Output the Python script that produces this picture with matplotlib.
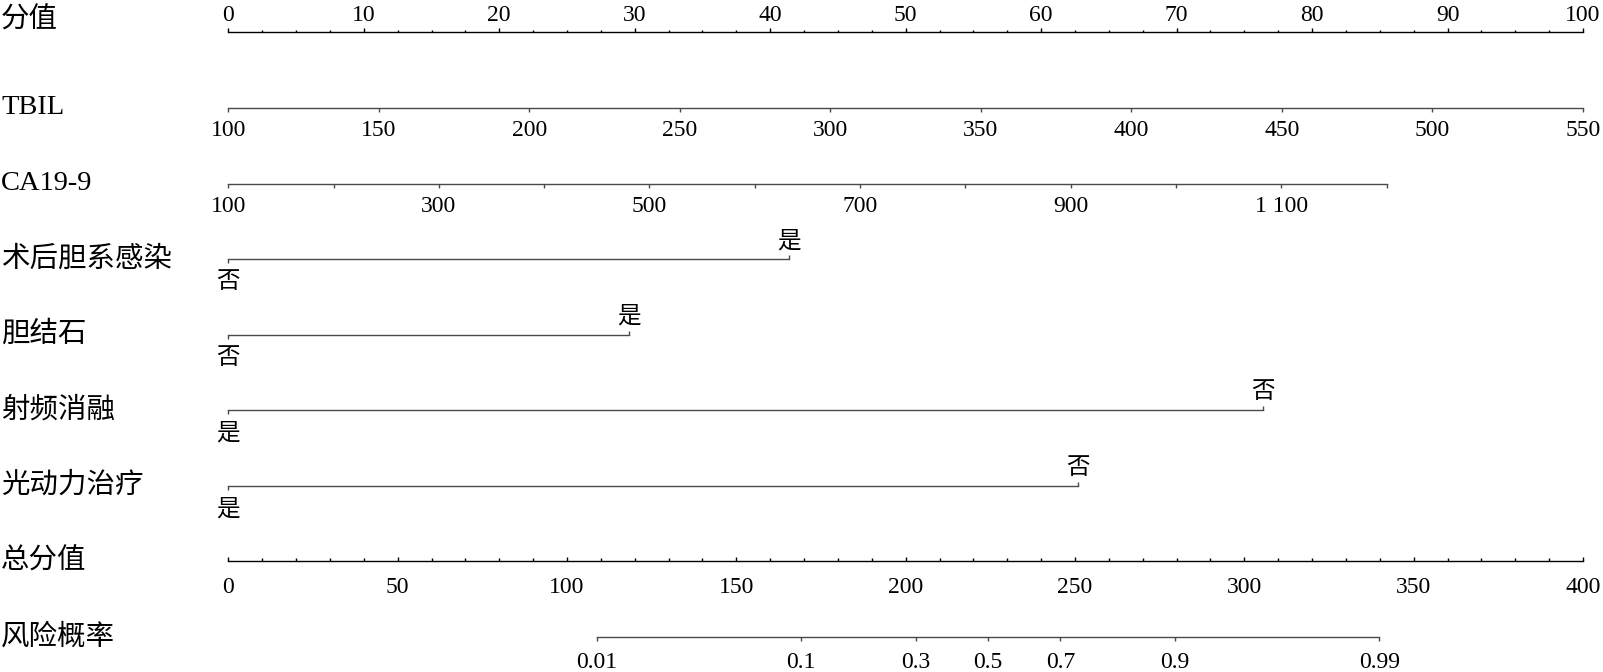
import numpy as np
import matplotlib
matplotlib.use("Agg")
import matplotlib.pyplot as plt
from matplotlib.ticker import MultipleLocator, NullLocator

plt.rcParams['font.family'] = ['Liberation Serif', 'Noto Sans CJK SC']

# row titles, top to bottom
row_names = ["分值", "TBIL", "CA19-9", "术后胆系感染", "胆结石", "射频消融", "光动力治疗", "总分值", "风险概率"]

# points scale
point_ticks = np.arange(0, 101, 10)

# TBIL: 100 -> 0 points, 550 -> 100 points
tbil_range = [100, 550]
tbil_points = [0, 100]
tbil_ticks = np.arange(100, 551, 50)

# CA19-9: 100 -> 0 points, 1200 -> ~85.5 points
ca199_range = [100, 1200]
ca199_points = [0, 85.5]
ca199_ticks = np.arange(100, 1201, 100)
ca199_labels = ["100", "", "300", "", "500", "", "700", "", "900", "", "1 100", ""]

# binary predictors: level at 0 points, level at max points, max points
binary_names = ["术后胆系感染", "胆结石", "射频消融", "光动力治疗"]
binary_low = ["否", "否", "是", "是"]
binary_high = ["是", "是", "否", "否"]
binary_points = [41.4, 29.6, 76.4, 62.7]

# total points and risk
total_range = [0, 400]
total_ticks = np.arange(0, 401, 50)
risk_ticks = [0.01, 0.1, 0.3, 0.5, 0.7, 0.9, 0.99]
risk_labels = ["0.01", "0.1", "0.3", "0.5", "0.7", "0.9", "0.99"]
risk_intercept = -8.93
risk_slope = 0.0398

W, H = 1603, 672
X0, X100 = 228.3, 1583.0      # pixel span of the 0-100 points scale
ROW0, ROW_GAP = 32.3, 75.6
TICK_FS = 17
NAME_FS = 20.5

fig = plt.figure(figsize=(W / 100, H / 100), dpi=100)


def row_axis(i, p0, p1, color="#4a4a4a", side="bottom"):
    left = (X0 + (X100 - X0) * p0 / 100) / W
    width = (X100 - X0) * (p1 - p0) / 100 / W
    y = 1 - (ROW0 + i * ROW_GAP) / H
    ax = fig.add_axes([left, y, width, 1e-4])
    ax.patch.set_visible(False)
    ax.yaxis.set_visible(False)
    for s in ["left", "right", "top", "bottom"]:
        ax.spines[s].set_visible(s == side)
    ax.spines[side].set_color(color)
    ax.spines[side].set_linewidth(1.0)
    if side == "top":
        ax.xaxis.set_ticks_position("top")
        ax.xaxis.set_label_position("top")
    ax.tick_params(axis="x", which="major", length=3, width=1.0, color=color,
                   labelsize=TICK_FS, pad=3)
    ax.tick_params(axis="x", which="minor", length=1.5, width=1.0, color=color)
    return ax


def sec_top(ax, ticks, labels, color="#4a4a4a"):
    sec = ax.secondary_xaxis("top")
    for s in sec.spines.values():
        s.set_visible(False)
    sec.set_xticks(ticks, labels=labels)
    sec.tick_params(axis="x", length=3, width=1.0, color=color, labelsize=TICK_FS, pad=2)
    return sec


# 分值
ax = row_axis(0, 0, 100, color="black", side="top")
ax.set_xlim(0, 100)
ax.set_xticks(point_ticks)
ax.xaxis.set_minor_locator(MultipleLocator(2.5))
ax.tick_params(axis="x", pad=1.5)

# TBIL
ax = row_axis(1, *tbil_points)
ax.set_xlim(*tbil_range)
ax.set_xticks(tbil_ticks)
ax.tick_params(axis="x", pad=5.5)

# CA19-9
ax = row_axis(2, *ca199_points)
ax.set_xlim(*ca199_range)
ax.set_xticks(ca199_ticks, labels=ca199_labels)
ax.tick_params(axis="x", pad=6)

# binary rows
for k in range(len(binary_names)):
    ax = row_axis(3 + k, 0, binary_points[k])
    ax.set_xlim(0, 1)
    ax.set_xticks([0], labels=[binary_low[k]])
    ax.tick_params(axis="x", pad=6.5)
    sec_top(ax, [1], [binary_high[k]])

# 总分值
ax = row_axis(7, 0, 100, color="black")
ax.set_xlim(*total_range)
ax.set_xticks(total_ticks)
ax.xaxis.set_minor_locator(MultipleLocator(10))
ax.tick_params(axis="x", which="both", direction="in", pad=11)
ax.tick_params(axis="x", which="minor", length=2)

# 风险概率
ax = row_axis(8, 0, 100)
ax.set_xscale("logit")
lo = 1 / (1 + np.exp(-(risk_intercept + risk_slope * total_range[0])))
hi = 1 / (1 + np.exp(-(risk_intercept + risk_slope * total_range[1])))
ax.set_xlim(lo, hi)
ax.spines["bottom"].set_bounds(risk_ticks[0], risk_ticks[-1])
ax.set_xticks(risk_ticks, labels=risk_labels)
ax.xaxis.set_minor_locator(NullLocator())
ax.tick_params(axis="x", pad=8)

# row titles
for i, name in enumerate(row_names):
    y_px = ROW0 + i * ROW_GAP
    if i == 0:
        y_px -= 12
    fig.text(1 / W, 1 - y_px / H, name, ha="left", va="center", fontsize=NAME_FS)

fig.savefig("out.png", dpi=100)
plt.close(fig)
